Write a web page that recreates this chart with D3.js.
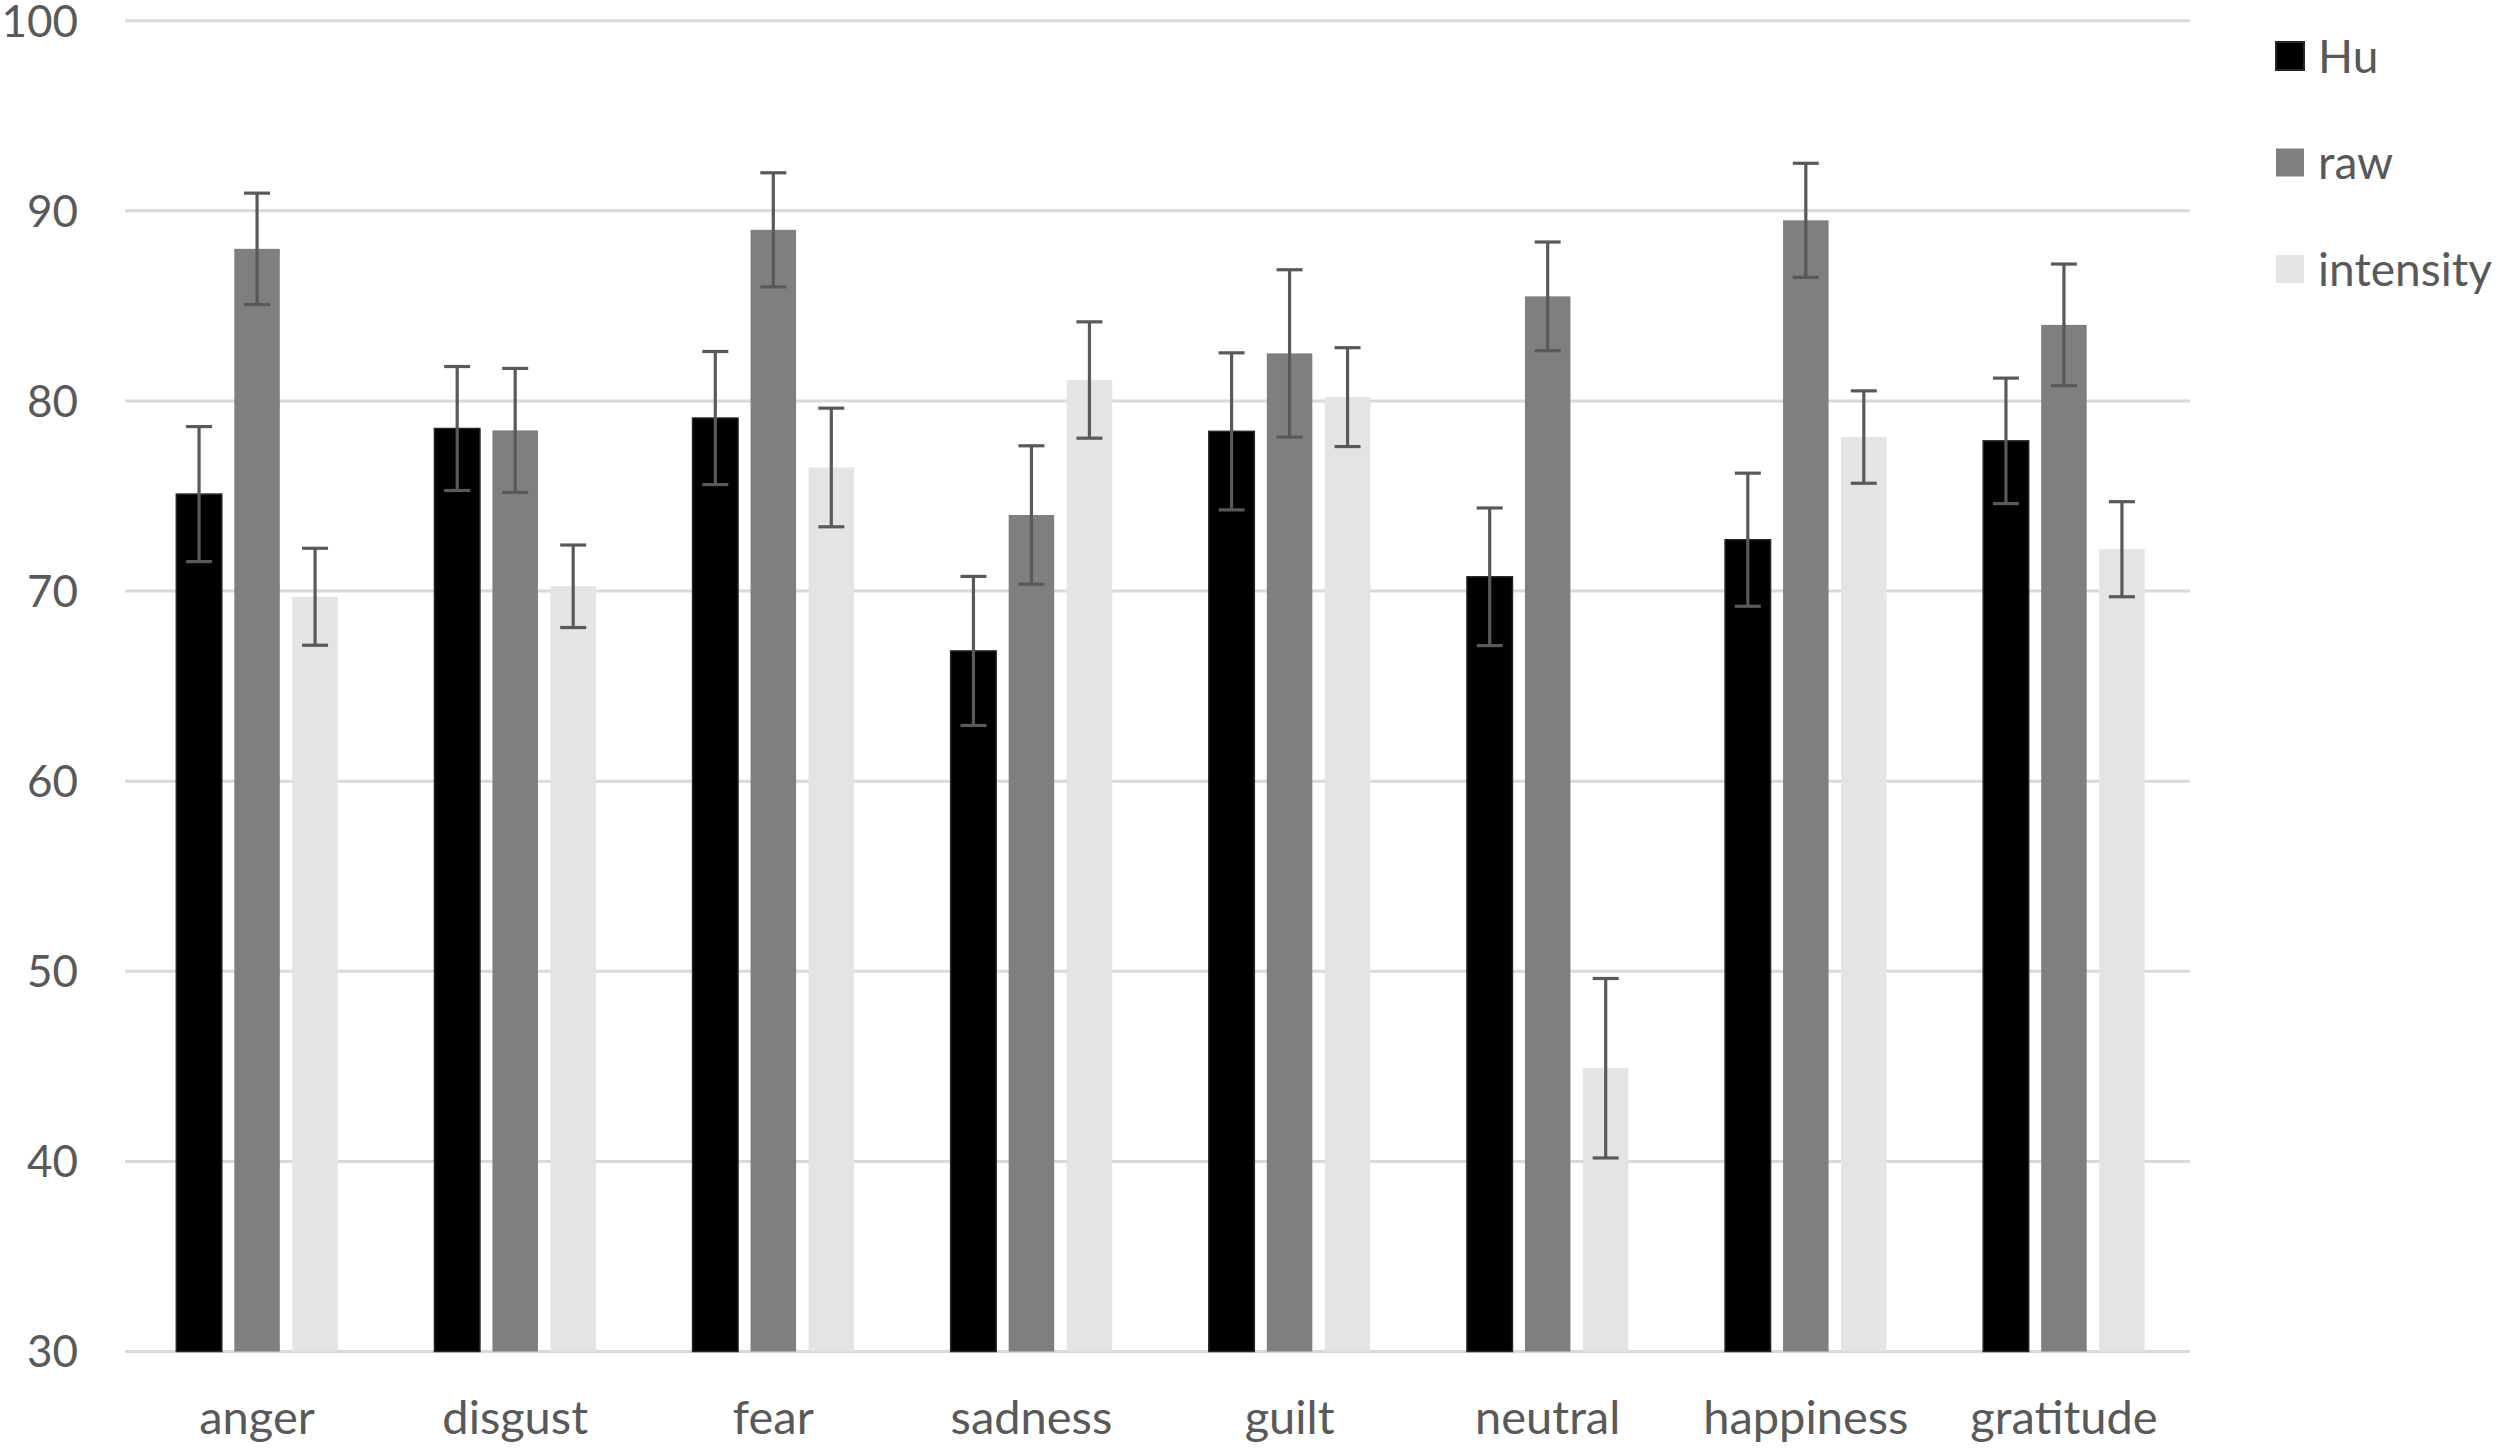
<!DOCTYPE html>
<html>
<head>
<meta charset="utf-8">
<script src="https://cdn.jsdelivr.net/npm/d3@7/dist/d3.min.js"></script>
<style>
  html, body { margin: 0; padding: 0; background: #ffffff; }
  svg { display: block; }
  text { font-family: Lato, "Open Sans", sans-serif; fill: #595959; }
</style>
</head>
<body>
<script>
// ---- data ----
const categories = ["anger", "disgust", "fear", "sadness", "guilt", "neutral", "happiness", "gratitude"];
const seriesNames = ["Hu", "raw", "intensity"];
const huValues = [75.1, 78.55, 79.1, 66.85, 78.4, 70.75, 72.7, 77.9];
const huErrors = [3.55, 3.26, 3.5, 3.92, 4.13, 3.62, 3.5, 3.3];
const rawValues = [88.0, 78.45, 89.0, 74.0, 82.5, 85.5, 89.5, 84.0];
const rawErrors = [2.93, 3.26, 3.0, 3.64, 4.4, 2.86, 3.0, 3.2];
const intensityValues = [69.7, 70.25, 76.5, 81.1, 80.2, 44.9, 78.1, 72.2];
const intensityErrors = [2.55, 2.17, 3.12, 3.06, 2.6, 4.72, 2.43, 2.5];
const yTicks = [30, 40, 50, 60, 70, 80, 90, 100];

const seriesValues = [huValues, rawValues, intensityValues];
const seriesErrors = [huErrors, rawErrors, intensityErrors];
const seriesColors = ["#000000", "#7f7f7f", "#e4e4e4"];

// ---- layout ----
const W = 2500, H = 1448;
const plotLeft = 125, plotRight = 2190, plotTop = 20.7, plotBottom = 1351.5;

const svg = d3.select("body").append("svg").attr("width", W).attr("height", H);

const y = d3.scaleLinear().domain([30, 100]).range([plotBottom, plotTop]);
const x0 = d3.scaleBand().domain(categories).range([plotLeft, plotRight]).paddingInner(0).paddingOuter(0);
const x1 = d3.scaleBand().domain(seriesNames).range([-80.75, 80.75]).paddingInner(0.2155).paddingOuter(0);
const groupShift = 3;

// gridlines
svg.append("g").selectAll("line").data(yTicks).join("line")
  .attr("x1", plotLeft).attr("x2", plotRight)
  .attr("y1", d => y(d)).attr("y2", d => y(d))
  .attr("stroke", "#d9d9d9").attr("stroke-width", 3);

// y tick labels
svg.append("g").selectAll("text").data(yTicks).join("text")
  .attr("x", 78).attr("y", d => y(d)).attr("dy", "0.36em")
  .attr("text-anchor", "end").attr("font-size", 44)
  .text(d => d);

// bars
const records = [];
categories.forEach((c, i) => {
  seriesNames.forEach((s, j) => {
    records.push({cat: c, ser: s, idx: j, v: seriesValues[j][i], e: seriesErrors[j][i]});
  });
});

const cx = d => x0(d.cat) + x0.bandwidth() / 2 + groupShift + x1(d.ser);

svg.append("g").selectAll("rect").data(records).join("rect")
  .attr("x", d => cx(d))
  .attr("y", d => y(d.v))
  .attr("width", x1.bandwidth())
  .attr("height", d => y(30) - y(d.v))
  .attr("fill", d => seriesColors[d.idx])
  .attr("stroke", d => d.idx === 0 ? "#262626" : "none")
  .attr("stroke-width", 1.5);

// error bars
const eg = svg.append("g").attr("stroke", "#595959").attr("stroke-width", 3.2);
const capHalf = 13;
records.forEach(d => {
  const mx = cx(d) + x1.bandwidth() / 2;
  eg.append("line").attr("x1", mx).attr("x2", mx).attr("y1", y(d.v + d.e)).attr("y2", y(d.v - d.e));
  eg.append("line").attr("x1", mx - capHalf).attr("x2", mx + capHalf).attr("y1", y(d.v + d.e)).attr("y2", y(d.v + d.e));
  eg.append("line").attr("x1", mx - capHalf).attr("x2", mx + capHalf).attr("y1", y(d.v - d.e)).attr("y2", y(d.v - d.e));
});

// category labels
svg.append("g").selectAll("text").data(categories).join("text")
  .attr("x", d => x0(d) + x0.bandwidth() / 2 + groupShift)
  .attr("y", 1434)
  .attr("text-anchor", "middle").attr("font-size", 47)
  .text(d => d);

// legend
const legendY = [56, 162.5, 269];
const lg = svg.append("g");
seriesNames.forEach((s, j) => {
  lg.append("rect")
    .attr("x", 2276).attr("y", legendY[j] - 14)
    .attr("width", 28).attr("height", 28)
    .attr("fill", seriesColors[j])
    .attr("stroke", j === 0 ? "#262626" : "none").attr("stroke-width", 2);
  lg.append("text")
    .attr("x", 2318).attr("y", legendY[j]).attr("dy", "0.36em")
    .attr("font-size", 46)
    .text(s);
});
</script>
</body>
</html>
